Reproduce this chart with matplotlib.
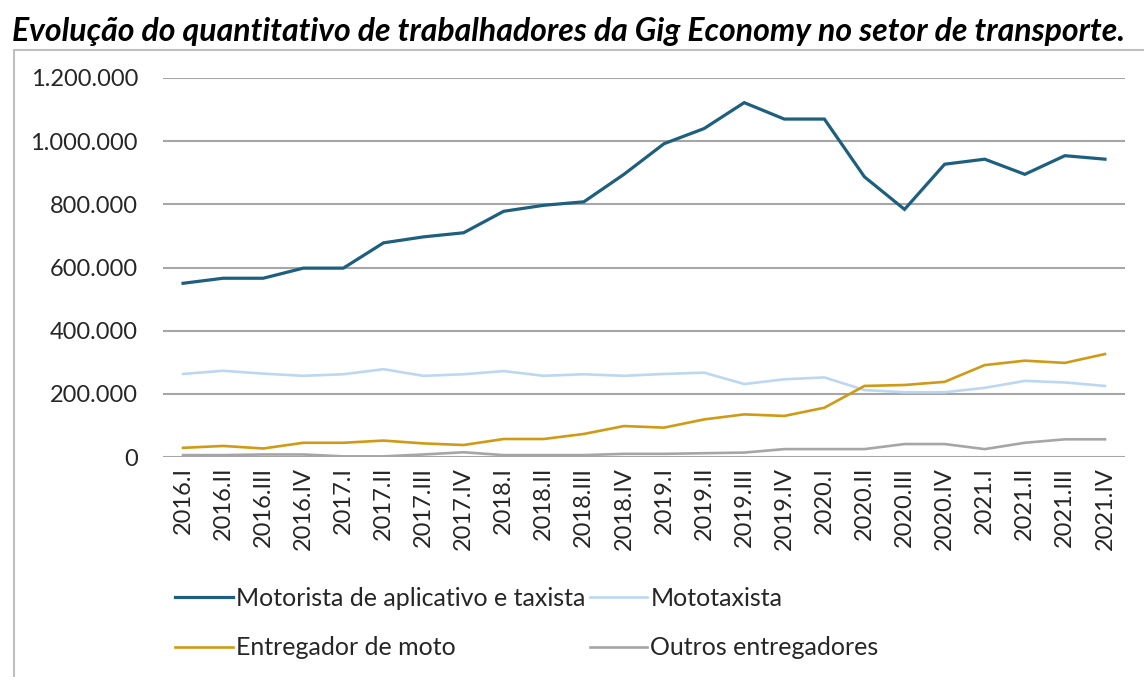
import matplotlib
matplotlib.use("Agg")
import matplotlib.pyplot as plt
from matplotlib.patches import Rectangle
from matplotlib.ticker import FuncFormatter

plt.rcParams['font.family'] = ['Lato', 'DejaVu Sans']

# trimestres
quarters = ["2016.I", "2016.II", "2016.III", "2016.IV",
            "2017.I", "2017.II", "2017.III", "2017.IV",
            "2018.I", "2018.II", "2018.III", "2018.IV",
            "2019.I", "2019.II", "2019.III", "2019.IV",
            "2020.I", "2020.II", "2020.III", "2020.IV",
            "2021.I", "2021.II", "2021.III", "2021.IV"]

motorista = [550000, 566000, 566000, 598000, 598000, 678000, 697000, 710000,
             778000, 797000, 808000, 895000, 992000, 1040000, 1122000, 1070000,
             1070000, 887000, 784000, 927000, 943000, 895000, 954000, 943000]

mototaxista = [263000, 273000, 264000, 257000, 262000, 278000, 257000, 262000,
               272000, 257000, 262000, 257000, 263000, 267000, 231000, 246000,
               252000, 212000, 205000, 205000, 219000, 241000, 236000, 225000]

entregador_moto = [29000, 35000, 27000, 45000, 45000, 52000, 43000, 38000,
                   57000, 57000, 73000, 98000, 93000, 119000, 135000, 130000,
                   156000, 225000, 228000, 238000, 291000, 305000, 298000, 326000]

outros = [6000, 6000, 8000, 8000, 2000, 2000, 8000, 15000,
          6000, 6000, 6000, 10000, 10000, 12000, 14000, 25000,
          25000, 25000, 41000, 41000, 25000, 45000, 56000, 56000]

series = [
    ("Motorista de aplicativo e taxista", motorista, "#1d5f7e", 2.3),
    ("Mototaxista", mototaxista, "#bcd8f0", 1.9),
    ("Entregador de moto", entregador_moto, "#d09a14", 1.9),
    ("Outros entregadores", outros, "#a6a6a6", 1.9),
]

fig = plt.figure(figsize=(11.44, 6.77), dpi=100)
ax = fig.add_axes([163 / 1144, 1 - 457 / 677, (1125 - 163) / 1144, (457 - 78) / 677])

x = list(range(len(quarters)))
lines = {}
for label, vals, color, lw in series:
    lines[label], = ax.plot(x, vals, color=color, lw=lw, label=label, solid_joinstyle='miter')

ax.set_xlim(-0.5, len(quarters) - 0.5)
ax.set_ylim(0, 1200000)
ax.set_yticks(range(0, 1200001, 200000))
ax.yaxis.set_major_formatter(FuncFormatter(lambda v, p: f"{int(v):,}".replace(",", ".")))
ax.set_xticks(x)
ax.set_xticklabels(quarters, rotation=90)
ax.tick_params(axis='both', length=0, labelsize=17, colors='#262626')
ax.tick_params(axis='y', pad=18)
ax.tick_params(axis='x', pad=7)
ax.grid(axis='y', color='#a6a6a6', lw=1.5)
ax.set_axisbelow(True)
for s in ax.spines.values():
    s.set_visible(False)

# moldura do gráfico
fig.patches.append(Rectangle((14 / 1144, -0.1), 1.2, 1 - 50 / 677 + 0.1,
                             transform=fig.transFigure, fill=False,
                             edgecolor='#bfbfbf', lw=1.5))

fig.text(12 / 1144, 1 - 31 / 677,
         "Evolução do quantitativo de trabalhadores da Gig Economy no setor de transporte.",
         fontsize=23, fontweight='bold', fontstyle='italic', va='center', ha='left')

# ordem para preencher a legenda por linhas
order = ["Motorista de aplicativo e taxista", "Entregador de moto",
         "Mototaxista", "Outros entregadores"]
fig.legend([lines[k] for k in order], order,
           loc='upper left', bbox_to_anchor=(175 / 1144, 1 - 587 / 677), ncol=2,
           frameon=False, fontsize=18, handlelength=2.3, handletextpad=0.12,
           columnspacing=0.2, labelspacing=1.05, borderpad=0, borderaxespad=0,
           labelcolor='#262626')

fig.savefig("out.png", dpi=100, facecolor='white')
